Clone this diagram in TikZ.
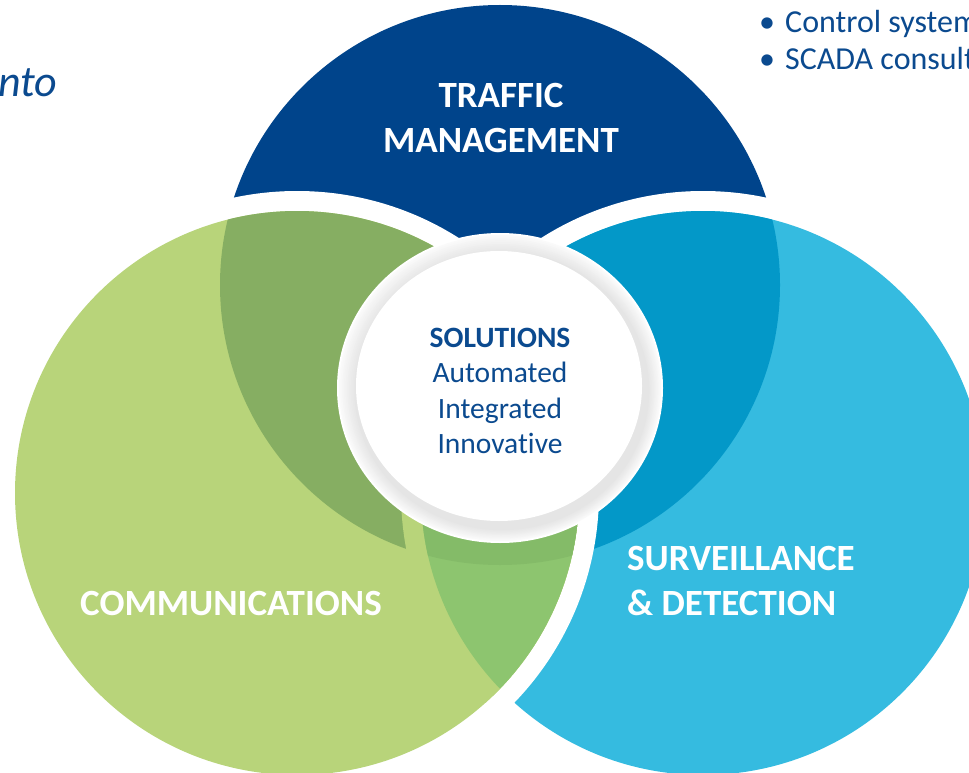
\documentclass[tikz,border=0pt]{standalone}
\usepackage{fontspec}
\setmainfont{Carlito}[Ligatures=NoCommon]
\usetikzlibrary{calc}
\definecolor{topblue}{HTML}{00448B}
\definecolor{lightblue}{HTML}{35BBE0}
\definecolor{midblue}{HTML}{0398C8}
\definecolor{lightgreen}{HTML}{B8D47A}
\definecolor{darkgreen}{HTML}{86AE62}
\definecolor{midgreen}{HTML}{8DC56F}
\definecolor{bandgreen}{HTML}{84BB68}
\definecolor{textblue}{HTML}{0B4A8F}
\tikzset{
  biglabel/.style={text=white, inner sep=0pt, font=\fontsize{37}{44}\selectfont\bfseries},
  midlabel/.style={text=textblue, inner sep=0pt, font=\fontsize{29.5}{35}\selectfont},
  sidelabel/.style={text=textblue, inner sep=0pt, font=\fontsize{32}{38}\selectfont},
}
\begin{document}
\begin{tikzpicture}[x=1pt,y=-1pt]
\useasboundingbox (0,0) rectangle (969,773);
\fill[white] (0,0) rectangle (969,773);
\coordinate (T) at (500,285);
\coordinate (G) at (297,493);
\coordinate (B) at (703,493);
\coordinate (C) at (500,388);
% top circle
\fill[topblue] (T) circle[radius=280pt];
% blue circle
\fill[white] (B) circle[radius=302pt];
\fill[lightblue] (B) circle[radius=282pt];
\begin{scope}
  \clip (B) circle[radius=282pt];
  \fill[midblue] (T) circle[radius=280pt];
\end{scope}
% green circle
\fill[white] (G) circle[radius=302pt];
\fill[lightgreen] (G) circle[radius=282pt];
\begin{scope}
  \clip (G) circle[radius=282pt];
  \fill[darkgreen] (T) circle[radius=280pt];
  \fill[lightgreen] (B) circle[radius=302pt];
  \fill[midgreen] (B) circle[radius=282pt];
  \clip (B) circle[radius=282pt];
  \fill[bandgreen] (T) circle[radius=280pt];
\end{scope}
% centre circle with soft grey ring
\fill[white] (C) ellipse[x radius=163pt, y radius=155pt];
\foreach \i in {0,...,9} {
  \pgfmathsetmacro{\g}{2+0.9*\i}
  \fill[black!\g!white] ($(C)+(0.2*\i,0.3*\i)$) ellipse[x radius={161pt-1.5pt*\i}, y radius={153pt-1.5pt*\i}];
}
\fill[white] ($(C)+(-1,-2)$) ellipse[x radius=143pt, y radius=135pt];
% labels
\node[biglabel, anchor=base] (traffic) at (501,108) {TRAFFIC};
\node[biglabel, anchor=base] (management) at (501,153) {MANAGEMENT};
\node[biglabel, anchor=base west] (comm) at (80,615) {COMMUNICATIONS};
\node[biglabel, anchor=base west] (surv) at (627,570) {SURVEILLANCE};
\node[biglabel, anchor=base west] (detect) at (627,615) {\& DETECTION};
\node[midlabel, anchor=base, font=\fontsize{29.5}{35}\selectfont\bfseries] (sol) at (500,347) {SOLUTIONS};
\node[midlabel, anchor=base] (auto) at (500,382) {Automated};
\node[midlabel, anchor=base] (integ) at (500,418) {Integrated};
\node[midlabel, anchor=base] (innov) at (500,453) {Innovative};
% side texts
\node[sidelabel, anchor=base] (b1) at (767,33) {•};
\node[sidelabel, anchor=base west] (ctrl) at (785,33) {Control system};
\node[sidelabel, anchor=base] (b2) at (767,70) {•};
\node[sidelabel, anchor=base west] (scada) at (785,70) {SCADA consult};
\node[text=textblue, inner sep=0pt, anchor=base west, font=\fontsize{44}{50}\selectfont\itshape] (nto) at (-2,97) {nto};
\end{tikzpicture}
\end{document}
